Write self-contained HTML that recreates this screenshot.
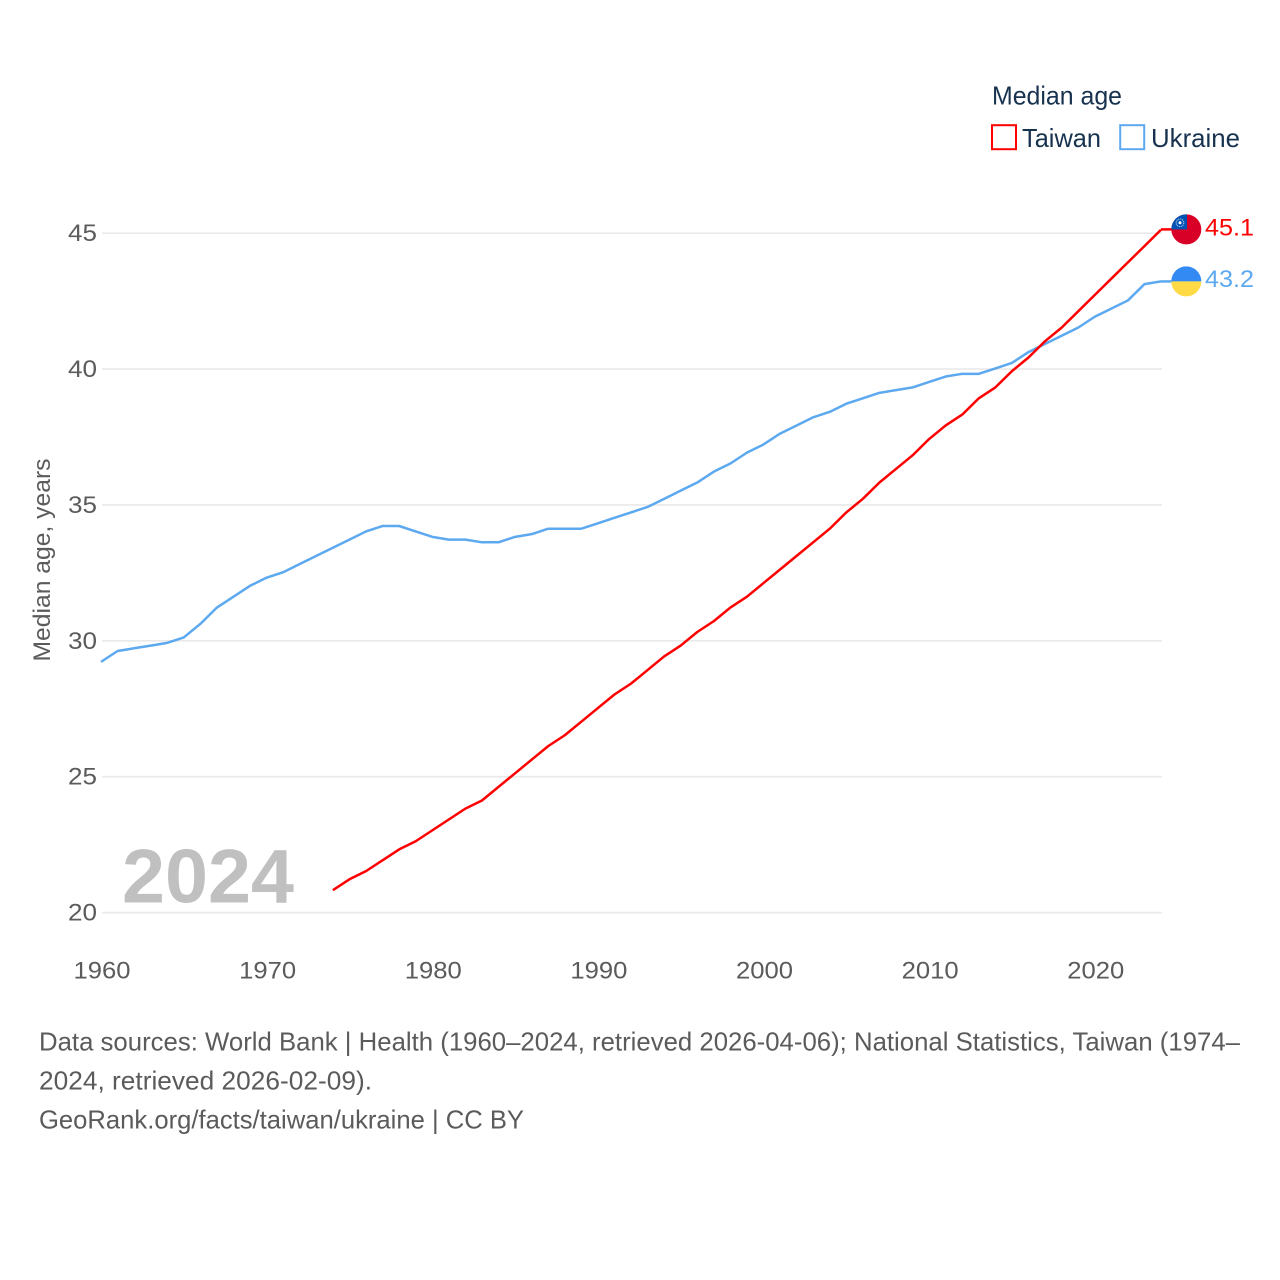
<!DOCTYPE html>
<html lang="en">
<head>
<meta charset="utf-8">
<title>Median age: Taiwan and Ukraine</title>
<style>
  html, body { margin: 0; padding: 0; background: #fff; }
  svg { display: block; font-family: "Liberation Sans", sans-serif; }
</style>
</head>
<body>
<svg id="chart" xmlns="http://www.w3.org/2000/svg" width="1280" height="1280" viewBox="0 0 1280 1280">
  <rect x="0" y="0" width="1280" height="1280" fill="#ffffff"/>
  <g id="grid"></g>
  <g id="y-ticks"></g>
  <g id="x-ticks"></g>
  <text transform="translate(50,560) rotate(-90)" text-anchor="middle" font-size="24" fill="#5b5b5b" textLength="203" lengthAdjust="spacingAndGlyphs">Median age, years</text>
  <text x="122" y="902.5" font-size="76" font-weight="bold" fill="#c0c0c0" textLength="172" lengthAdjust="spacingAndGlyphs">2024</text>
  <g id="series"></g>
  <g id="ends"></g>

  <g>
    <text x="992" y="104.5" font-size="26" fill="#17324f" textLength="130" lengthAdjust="spacingAndGlyphs">Median age</text>
    <g>
      <rect x="992" y="125.2" width="24" height="24" fill="none" stroke="#ff0000" stroke-width="2"/>
      <text x="1022" y="147" font-size="26" fill="#17324f" textLength="79" lengthAdjust="spacingAndGlyphs">Taiwan</text>
    </g>
    <g>
      <rect x="1120.2" y="125.2" width="24" height="24" fill="none" stroke="#5da9f0" stroke-width="2"/>
      <text x="1151" y="147" font-size="26" fill="#17324f" textLength="89" lengthAdjust="spacingAndGlyphs">Ukraine</text>
    </g>
  </g>

  <g font-size="26" fill="#5b5b5b">
    <text x="39" y="1050.3" textLength="1201" lengthAdjust="spacingAndGlyphs">Data sources: World Bank | Health (1960–2024, retrieved 2026-04-06); National Statistics, Taiwan (1974–</text>
    <text x="39" y="1089.3" textLength="333" lengthAdjust="spacingAndGlyphs">2024, retrieved 2026-02-09).</text>
    <text x="39" y="1128.3" textLength="485" lengthAdjust="spacingAndGlyphs">GeoRank.org/facts/taiwan/ukraine | CC BY</text>
  </g>
</svg>
<script>
const yTickValues = [20, 25, 30, 35, 40, 45];
const xTickValues = [1960, 1970, 1980, 1990, 2000, 2010, 2020];

const ukraineStartYear = 1960;
const ukraineValues = [29.2, 29.6, 29.7, 29.8, 29.9, 30.1, 30.6, 31.2, 31.6, 32.0,
  32.3, 32.5, 32.8, 33.1, 33.4, 33.7, 34.0, 34.2, 34.2, 34.0,
  33.8, 33.7, 33.7, 33.6, 33.6, 33.8, 33.9, 34.1, 34.1, 34.1,
  34.3, 34.5, 34.7, 34.9, 35.2, 35.5, 35.8, 36.2, 36.5, 36.9,
  37.2, 37.6, 37.9, 38.2, 38.4, 38.7, 38.9, 39.1, 39.2, 39.3,
  39.5, 39.7, 39.8, 39.8, 40.0, 40.2, 40.6, 40.9, 41.2, 41.5,
  41.9, 42.2, 42.5, 43.1, 43.2];

const taiwanStartYear = 1974;
const taiwanValues = [20.8, 21.2, 21.5, 21.9, 22.3, 22.6,
  23.0, 23.4, 23.8, 24.1, 24.6, 25.1, 25.6, 26.1, 26.5, 27.0,
  27.5, 28.0, 28.4, 28.9, 29.4, 29.8, 30.3, 30.7, 31.2, 31.6,
  32.1, 32.6, 33.1, 33.6, 34.1, 34.7, 35.2, 35.8, 36.3, 36.8,
  37.4, 37.9, 38.3, 38.9, 39.3, 39.9, 40.4, 41.0, 41.5, 42.1,
  42.7, 43.3, 43.9, 44.5, 45.1];

const NS = 'http://www.w3.org/2000/svg';
const xPos = function (year) { return 102 + (year - 1960) * (1162 - 102) / 64; };
const yPos = function (value) { return 912.6 - (value - 20) * (912.6 - 233.2) / 25; };
const lineX = function (year) { return xPos(year) - 1; };
const lineY = function (value) { return yPos(value) - 0.7; };

function make(parent, tag, attrs, text) {
  const el = document.createElementNS(NS, tag);
  Object.keys(attrs).forEach(function (k) { el.setAttribute(k, attrs[k]); });
  if (text !== undefined) el.textContent = text;
  parent.appendChild(el);
  return el;
}

const grid = document.getElementById('grid');
const yTicks = document.getElementById('y-ticks');
yTickValues.forEach(function (v) {
  const line = make(grid, 'line', { x1: 102, x2: 1162, y1: yPos(v), y2: yPos(v), stroke: '#e9e9e9', 'stroke-width': 1.6 });
  
  
  const label = make(yTicks, 'text', { x: 97, y: yPos(v) + 8, 'text-anchor': 'end', 'font-size': 24, fill: '#5b5b5b', textLength: 29, lengthAdjust: 'spacingAndGlyphs' }, String(v));
  
  
});

const xTicks = document.getElementById('x-ticks');
xTickValues.forEach(function (t) {
  const label = make(xTicks, 'text', { x: xPos(t), y: 978.5, 'text-anchor': 'middle', 'font-size': 24, fill: '#5b5b5b', textLength: 57, lengthAdjust: 'spacingAndGlyphs' }, String(t));
  
  
});

function pathFor(values, startYear) {
  return values.map(function (v, i) {
    return (i === 0 ? 'M' : 'L') + lineX(startYear + i).toFixed(2) + ' ' + lineY(v).toFixed(2);
  }).join(' ');
}

const seriesGroup = document.getElementById('series');
const ukraineLine = make(seriesGroup, 'path', { d: pathFor(ukraineValues, ukraineStartYear), fill: 'none', stroke: '#5da9f0', 'stroke-width': 2.5, 'stroke-linejoin': 'round' });


const taiwanLine = make(seriesGroup, 'path', { d: pathFor(taiwanValues, taiwanStartYear), fill: 'none', stroke: '#ff0000', 'stroke-width': 2.5, 'stroke-linejoin': 'round' });



const ends = document.getElementById('ends');
const defs = make(ends, 'defs', {});

// Taiwan end marker
const twLast = taiwanValues[taiwanValues.length - 1];
const twY = lineY(twLast) - 0.4;
const twConnector = make(ends, 'line', { x1: lineX(2024), x2: 1172, y1: twY, y2: twY, stroke: '#ff0000', 'stroke-width': 2.5 });


const twClip = make(defs, 'clipPath', { id: 'tw-clip' });
make(twClip, 'circle', { cx: 1186.3, cy: twY, r: 15 });
const twFlag = make(ends, 'g', { 'clip-path': 'url(#tw-clip)' });


make(twFlag, 'rect', { x: 1170, y: twY - 16, width: 32, height: 32, fill: '#d80027' });
make(twFlag, 'rect', { x: 1170, y: twY - 16, width: 17, height: 16, fill: '#0052b4' });
make(twFlag, 'circle', { cx: 1180, cy: twY - 6.6, r: 3.8, fill: 'none', stroke: '#a9c4e6', 'stroke-width': 1.1, 'stroke-dasharray': '1.2 0.8' });
make(twFlag, 'circle', { cx: 1180, cy: twY - 6.6, r: 1.5, fill: '#ffffff' });
const twLabel = make(ends, 'text', { x: 1205, y: twY + 6.3, 'font-size': 24.5, fill: '#ff0000', textLength: 49, lengthAdjust: 'spacingAndGlyphs' }, twLast.toFixed(1));



// Ukraine end marker
const uaLast = ukraineValues[ukraineValues.length - 1];
const uaY = lineY(uaLast);
const uaConnector = make(ends, 'line', { x1: lineX(2024), x2: 1172, y1: uaY, y2: uaY, stroke: '#5da9f0', 'stroke-width': 2.5 });


const uaClip = make(defs, 'clipPath', { id: 'ua-clip' });
make(uaClip, 'circle', { cx: 1186.3, cy: uaY, r: 15 });
const uaFlag = make(ends, 'g', { 'clip-path': 'url(#ua-clip)' });


make(uaFlag, 'rect', { x: 1170, y: uaY - 16, width: 32, height: 16, fill: '#338af3' });
make(uaFlag, 'rect', { x: 1170, y: uaY, width: 32, height: 16, fill: '#ffda44' });
const uaLabel = make(ends, 'text', { x: 1205, y: uaY + 5.8, 'font-size': 24.5, fill: '#5da9f0', textLength: 49, lengthAdjust: 'spacingAndGlyphs' }, uaLast.toFixed(1));


</script>
</body>
</html>
